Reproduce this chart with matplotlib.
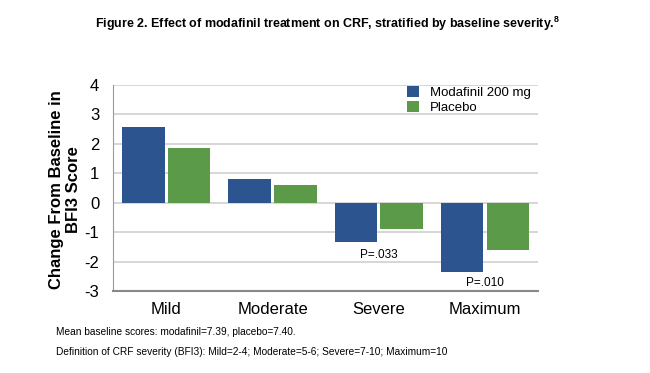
import numpy as np
import matplotlib
matplotlib.use('Agg')
import matplotlib.pyplot as plt

plt.rcParams['font.family'] = ['Liberation Sans', 'DejaVu Sans']
plt.rcParams['axes.unicode_minus'] = False
plt.rcParams['mathtext.fontset'] = 'custom'
plt.rcParams['mathtext.bf'] = 'Liberation Sans:bold'

categories = ['Mild', 'Moderate', 'Severe', 'Maximum']
modafinil = [2.58, 0.82, -1.33, -2.37]
placebo = [1.85, 0.61, -0.88, -1.62]
p_labels = ['', '', 'P=.033', 'P=.010']
p_y = [0, 0, -1.78, -2.73]

blue = '#2C5590'
green = '#5B9A48'

fig = plt.figure(figsize=(6.5, 3.73), dpi=100)
ax = fig.add_axes([0.174, 0.220, 0.654, 0.552])

x = np.arange(len(categories))
w = 0.4
ax.bar(x - 0.215, modafinil, w, color=blue, label='Modafinil 200 mg', zorder=3)
ax.bar(x + 0.215, placebo, w, color=green, label='Placebo', zorder=3)

# p-values under the severe / maximum groups
for i in range(len(categories)):
    if p_labels[i]:
        ax.text(x[i], p_y[i], p_labels[i], ha='center', va='center', fontsize=8.5)

ax.set_xlim(-0.5, 3.5)
ax.set_ylim(-3, 4)
ax.set_yticks(range(-3, 5))
ax.yaxis.grid(True, color='#d0d0d0', linewidth=1.2, zorder=0)
ax.set_axisbelow(True)
ax.tick_params(axis='both', length=0)
ax.tick_params(axis='y', labelsize=12, pad=10)
ax.tick_params(axis='x', labelsize=12, pad=8)
ax.set_xticks(x)
ax.set_xticklabels(categories)
for s in ['top', 'right']:
    ax.spines[s].set_visible(False)
ax.spines['left'].set_color('#999999')
ax.spines['bottom'].set_color('#888888')
ax.spines['bottom'].set_linewidth(1.5)

ax.set_ylabel('Change From Baseline in\nBFI3 Score', fontsize=12, fontweight='bold')
ax.yaxis.set_label_coords(-0.075, 0.49)

ax.legend(loc='upper left', bbox_to_anchor=(0.68, 1.02), frameon=False, fontsize=9.5,
          handlelength=0.9, handleheight=0.9, handletextpad=0.8, labelspacing=0.15, borderaxespad=0)

fig.text(0.146, 0.935, 'Figure 2. Effect of modafinil treatment on CRF, stratified by baseline severity.$^{\\mathbf{8}}$',
         fontsize=9, fontweight='bold', va='center')
fig.text(0.086, 0.110, 'Mean baseline scores: modafinil=7.39, placebo=7.40.', fontsize=7.3, va='center')
fig.text(0.086, 0.056, 'Definition of CRF severity (BFI3): Mild=2-4; Moderate=5-6; Severe=7-10; Maximum=10',
         fontsize=7.3, va='center')

fig.savefig('out.png', dpi=100)
